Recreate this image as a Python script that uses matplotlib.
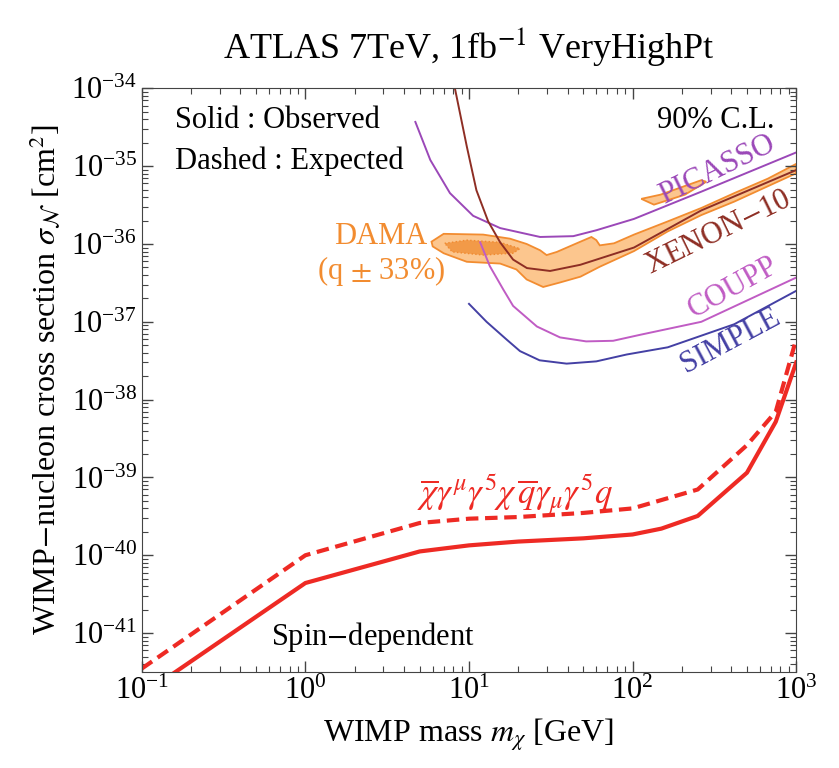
import numpy as np
import matplotlib
matplotlib.use("Agg")
import matplotlib.pyplot as plt
from matplotlib.ticker import LogLocator, NullFormatter

plt.rcParams['font.family'] = ['Liberation Serif', 'DejaVu Serif']
plt.rcParams['mathtext.fontset'] = 'stix'

# ATLAS limits (spin-dependent, axial-vector operator)
obs_m = [0.1, 1, 5, 10, 20, 50, 100, 150, 250, 500, 750, 1000]
obs_s = [1.6e-42, 4.4e-41, 1.12e-40, 1.34e-40, 1.5e-40, 1.65e-40, 1.85e-40, 2.2e-40, 3.2e-40, 1.15e-39, 5.2e-39, 3e-38]
exp_m = [0.1, 1, 5, 10, 20, 50, 100, 250, 500, 750, 1000]
exp_s = [3.5e-42, 1e-40, 2.6e-40, 2.95e-40, 3.1e-40, 3.5e-40, 4e-40, 7e-40, 2.6e-39, 7e-39, 6e-38]

# direct detection limits
xenon_m = [8.2, 9.7, 11.1, 13.1, 15.5, 18.6, 22.6, 31.3, 47.9, 102, 263, 1000]
xenon_s = [1e-34, 1.78e-35, 4.9e-36, 1.95e-36, 1.05e-36, 6.3e-37, 4.9e-37, 4.5e-37, 5.4e-37, 9e-37, 2.7e-36, 8.9e-36]
picasso_m = [4.7, 5.8, 7.65, 10.6, 15.5, 27.2, 43.4, 60, 102, 263, 1000]
picasso_s = [3.7e-35, 1.2e-35, 4.5e-36, 2.3e-36, 1.6e-36, 1.23e-36, 1.26e-36, 1.5e-36, 2.1e-36, 4.7e-36, 1.5e-35]
coupp_m = [11.7, 13.4, 16.2, 18.6, 26, 36, 52, 76, 111, 263, 1000]
coupp_s = [1.05e-36, 5.2e-37, 2.6e-37, 1.6e-37, 8.7e-38, 6.3e-38, 5.6e-38, 5.7e-38, 6.8e-38, 1e-37, 3.7e-37]
simple_m = [10, 12.8, 17, 20.5, 27, 39.5, 60, 92, 164, 418, 1000]
simple_s = [1.7e-37, 1e-37, 5.9e-38, 4.2e-38, 3.2e-38, 2.9e-38, 3.1e-38, 3.8e-38, 4.7e-38, 9.3e-38, 2.5e-37]

# DAMA contours
dama_m = [5.9, 7, 12.2, 17.8, 22.5, 27.2, 29.8, 34.4, 45.5, 56, 60, 63, 77, 102, 164, 263, 418, 670, 1000,
          1000, 418, 263, 164, 102, 63, 48, 36, 28.4, 22.5, 19.5, 15.5, 9.7, 7, 6.0]
dama_s = [1.07e-36, 1.35e-36, 1.32e-36, 1.17e-36, 1e-36, 8.3e-37, 7.2e-37, 7.9e-37, 1.02e-36, 1.23e-36, 1.12e-36, 9.6e-37,
          1.02e-36, 1.32e-36, 1.95e-36, 2.9e-36, 4.5e-36, 6.9e-36, 1.07e-35,
          8.1e-36, 3.5e-36, 2.35e-36, 1.45e-36, 8.1e-37, 5.1e-37, 3.8e-37, 3.2e-37, 2.8e-37, 3.5e-37, 4.7e-37, 5.6e-37,
          5.9e-37, 7.6e-37, 9.3e-37]
dama_in_m = [7.1, 9.7, 15.5, 20.5, 18.6, 12.2, 7.9]
dama_in_s = [1.02e-36, 1.12e-36, 1.05e-36, 8.7e-37, 7.6e-37, 7.2e-37, 7.9e-37]
dama2_m = [113, 148, 263, 282, 209, 135]
dama2_s = [3.8e-36, 4.3e-36, 6.6e-36, 6.3e-36, 4.3e-36, 3.2e-36]

red = '#ee2a24'
orange = '#f28c30'
fig, ax = plt.subplots(figsize=(8.39, 7.68), dpi=100)
fig.subplots_adjust(left=0.169, right=0.949, top=0.885, bottom=0.125)

ax.fill(dama_m, dama_s, facecolor='#fcc68e', edgecolor=orange, lw=1.3)
ax.fill(dama_in_m, dama_in_s, facecolor='#f29a48', edgecolor='#f08a30', lw=1, ls=':')
ax.fill(dama2_m, dama2_s, facecolor='#fcc68e', edgecolor=orange, lw=1.3)

ax.plot(picasso_m, picasso_s, color='#9b48b8', lw=1.4)
ax.plot(xenon_m, xenon_s, color='#8e2e24', lw=1.4)
ax.plot(coupp_m, coupp_s, color='#c05cc4', lw=1.4)
ax.plot(simple_m, simple_s, color='#4440a4', lw=1.4)

ax.plot(obs_m, obs_s, color=red, lw=3)
ax.plot(exp_m, exp_s, color=red, lw=3, ls=(0, (3, 1.6)))

ax.set_xscale('log')
ax.set_yscale('log')
ax.set_xlim(0.1, 1000)
ax.set_ylim(10**-41.5, 1e-34)
ax.set_yticks([10.0**k for k in range(-41, -33)])
ax.set_xticks([0.1, 1, 10, 100, 1000])
ax.yaxis.set_minor_locator(LogLocator(base=10, subs=np.arange(2, 10), numticks=100))
ax.yaxis.set_minor_formatter(NullFormatter())
ax.xaxis.set_minor_locator(LogLocator(base=10, subs=np.arange(2, 10), numticks=100))
ax.xaxis.set_minor_formatter(NullFormatter())
ax.tick_params(which='both', direction='in', top=True, right=True, color='#444', labelsize=22)
ax.tick_params(which='major', length=8, width=1)
ax.tick_params(which='minor', length=4, width=0.8)
for s in ax.spines.values():
    s.set_color('#444')

ax.set_xlabel(r'WIMP mass $m_\chi$ [GeV]', fontsize=23, labelpad=8)
ax.set_ylabel(r'WIMP$-$nucleon cross section $\sigma_{\mathcal{N}}$ [cm$^2$]', fontsize=23, labelpad=6)
ax.set_title(r'ATLAS 7TeV, 1fb$^{-1}$ VeryHighPt', fontsize=26, pad=22)

ax.text(0.05, 0.97, 'Solid : Observed', transform=ax.transAxes, fontsize=22, va='top')
ax.text(0.05, 0.90, 'Dashed : Expected', transform=ax.transAxes, fontsize=22, va='top')
ax.text(0.967, 0.97, '90% C.L.', transform=ax.transAxes, fontsize=22, va='top', ha='right')
ax.text(2.9, 10**-35.9, 'DAMA', color=orange, fontsize=22, ha='center', va='center')
ax.text(2.9, 10**-36.35, r'(q $\pm$ 33%)', color=orange, fontsize=22, ha='center', va='center')
ax.text(330, 10**-35.05, 'PICASSO', color='#9b48b8', fontsize=22, ha='center', va='center', rotation=26)
ax.text(335, 10**-35.86, 'XENON$-$10', color='#8e2e24', fontsize=22, ha='center', va='center', rotation=26)
ax.text(410, 10**-36.56, 'COUPP', color='#c05cc4', fontsize=22, ha='center', va='center', rotation=29)
ax.text(395, 10**-37.25, 'SIMPLE', color='#4440a4', fontsize=22, ha='center', va='center', rotation=28)
ax.text(19, 10**-39.22, r'$\overline{\chi}\gamma^{\mu}\gamma^{5}\chi\,\overline{q}\gamma_{\mu}\gamma^{5}q$',
        color=red, fontsize=25, ha='center', va='center')
ax.text(0.62, 10**-41.05, r'Spin$-$dependent', fontsize=22, ha='left', va='center')

fig.savefig('out.png', dpi=100)
